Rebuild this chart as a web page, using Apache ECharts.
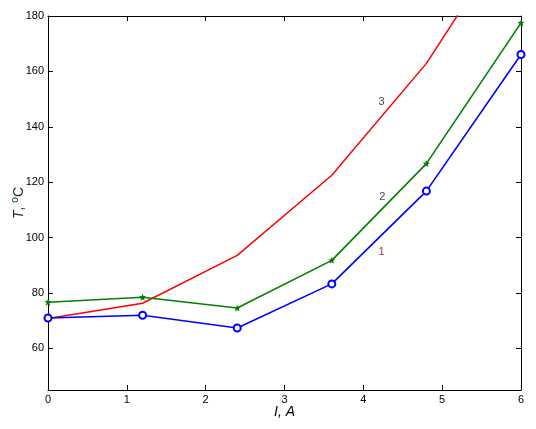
<!DOCTYPE html>
<html>
<head>
<meta charset="utf-8">
<script src="https://cdn.jsdelivr.net/npm/echarts@6/dist/echarts.min.js"></script>
<style>html,body{margin:0;padding:0;background:#fff}#c{width:536px;height:429px}</style>
</head>
<body>
<div id="c"></div>
<script>
var currentA = [0, 1.2, 2.4, 3.6, 4.8, 6];
var temp1 = [71, 72, 67.4, 83.3, 116.8, 166.1];
var temp2 = [76.7, 78.5, 74.6, 91.8, 126.7, 177.5];
var temp3 = [70.8, 76.3, 93.6, 122.5, 162.9, 215.5];
var xTicks = [0, 1, 2, 3, 4, 5, 6];
var yTicks = [60, 80, 100, 120, 140, 160, 180];
var curveLabels = ['1', '2', '3'];
var curveLabelX = [4.23, 4.24, 4.23];
var curveLabelY = [95, 114.5, 148.9];

function pairs(xs, ys) { return xs.map(function (x, i) { return [x, ys[i]]; }); }

var font = 'Liberation Sans, Arial, sans-serif';
var starPath = 'path://M0,-10 L2.5,-3.5 L9.5,-3.1 L4,1.5 L6,9 L0,4.8 L-6,9 L-4,1.5 L-9.5,-3.1 L-2.5,-3.5 Z';

var axisCommon = {
  type: 'value',
  axisLine: { show: true, onZero: false, lineStyle: { color: '#000', width: 1 } },
  axisTick: { show: true, inside: true, length: 5, lineStyle: { color: '#000' } },
  splitLine: { show: false },
  axisLabel: { color: '#000', fontFamily: font, fontSize: 11 }
};

function xAx(pos, showLabel, extra) {
  return Object.assign({}, axisCommon, {
    position: pos, min: 0, max: 6, interval: 1,
    axisLabel: Object.assign({}, axisCommon.axisLabel, { show: showLabel, margin: 4 })
  }, extra || {});
}
function yAx(pos, showLabel, extra) {
  return Object.assign({}, axisCommon, {
    position: pos, min: 45, max: 180,
    axisTick: Object.assign({}, axisCommon.axisTick, { customValues: yTicks }),
    axisLabel: Object.assign({}, axisCommon.axisLabel, { show: showLabel, margin: 4, customValues: yTicks })
  }, extra || {});
}

var chart = echarts.init(document.getElementById('c'), null, { renderer: 'canvas' });
chart.setOption({
  animation: false,
  backgroundColor: '#fff',
  grid: { left: 48, right: 15, top: 16, bottom: 39, containLabel: false, outerBoundsMode: 'none' },
  xAxis: [
    xAx('bottom', true, {
      name: '{i|I, A}', nameLocation: 'middle', nameGap: 15, nameMoveOverlap: false,
      nameTextStyle: { verticalAlign: 'top', rich: { i: { fontStyle: 'italic', fontSize: 14, fontFamily: font, color: '#000' } } }
    }),
    xAx('top', false)
  ],
  yAxis: [
    yAx('left', true, {
      name: '{ti|T}{t|, }{s|o}{t|C}', nameLocation: 'middle', nameGap: 30, nameRotate: 90, nameMoveOverlap: false,
      nameTextStyle: { verticalAlign: 'middle', rich: {
        ti: { fontSize: 14, fontStyle: 'italic', fontFamily: font, color: '#0a2a33', verticalAlign: 'bottom', lineHeight: 16 },
        t: { fontSize: 14, fontFamily: font, color: '#0a2a33', verticalAlign: 'bottom', lineHeight: 16 },
        s: { fontSize: 10, fontFamily: font, color: '#0a2a33', verticalAlign: 'top', lineHeight: 16 }
      } }
    }),
    yAx('right', false)
  ],
  series: [
    {
      name: '3', type: 'line', data: pairs(currentA, temp3), symbol: 'none', clip: true,
      lineStyle: { color: '#ff0000', width: 1.5 }, itemStyle: { color: '#ff0000' }, z: 2
    },
    {
      name: '2', type: 'line', data: pairs(currentA, temp2), symbol: starPath, symbolSize: 7, clip: false,
      lineStyle: { color: '#008000', width: 1.6 }, itemStyle: { color: '#008000' }, z: 3
    },
    {
      name: '1', type: 'line', data: pairs(currentA, temp1), symbol: 'emptyCircle', symbolSize: 7, clip: false,
      showAllSymbol: true,
      lineStyle: { color: '#0000ff', width: 1.6 }, itemStyle: { color: '#0000ff', borderWidth: 1.5 }, z: 4
    },
    {
      type: 'scatter', symbolSize: 0, silent: true, z: 5,
      data: curveLabels.map(function (t, i) {
        return { name: t, value: [curveLabelX[i], curveLabelY[i]],
          label: { color: i === 0 ? '#800020' : '#111' } };
      }),
      label: { show: true, position: 'inside', formatter: '{b}', fontFamily: font, fontSize: 11 }
    }
  ]
});
</script>
</body>
</html>
